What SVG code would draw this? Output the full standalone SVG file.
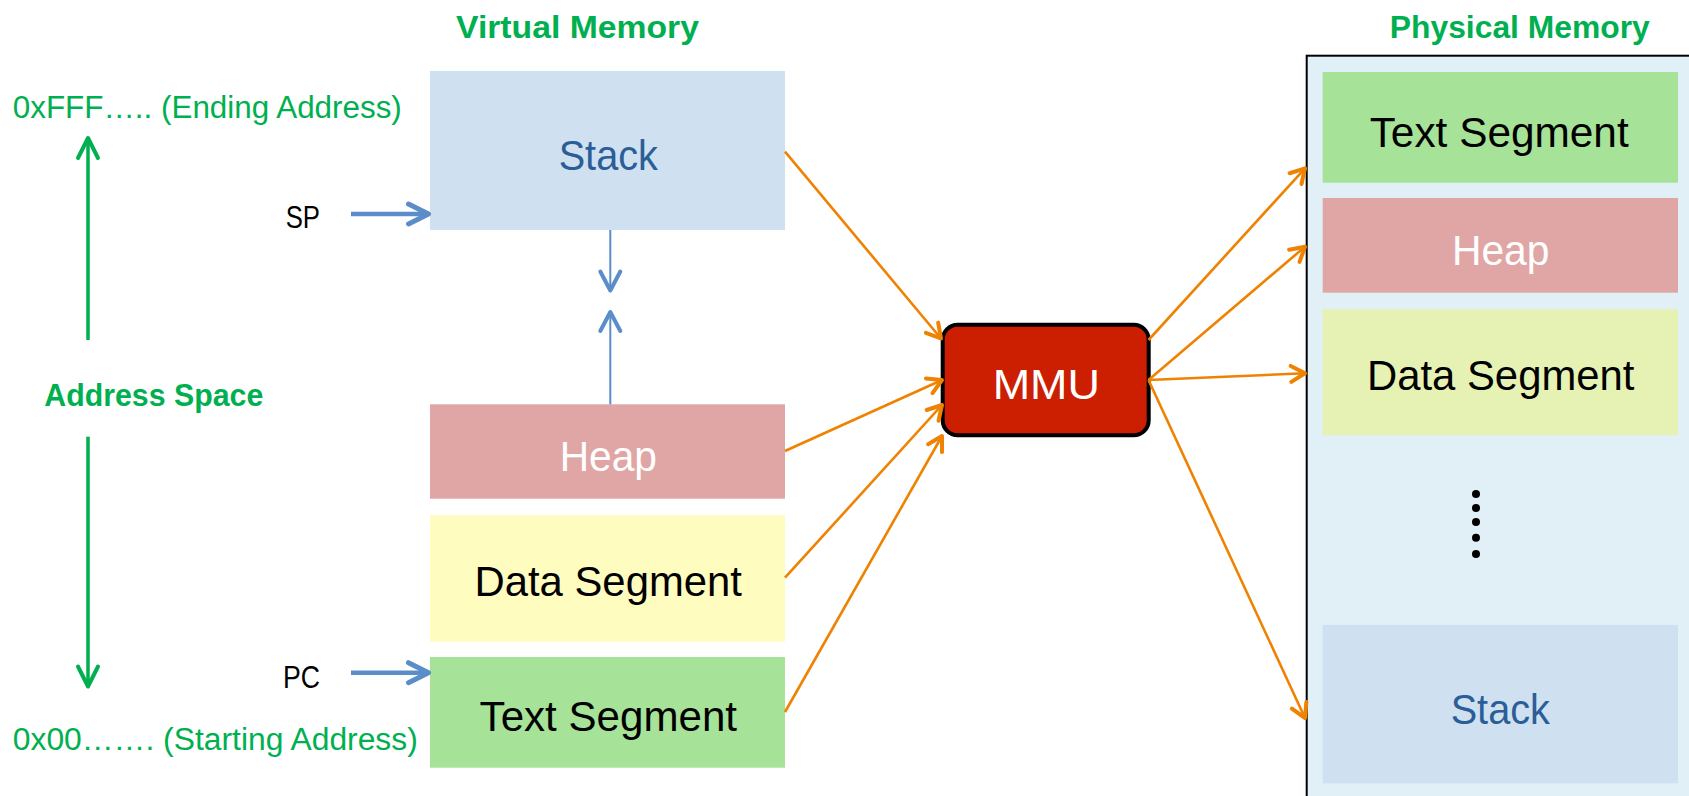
<svg xmlns="http://www.w3.org/2000/svg" width="1689" height="796" viewBox="0 0 1689 796">
  <style>
    .t { font-family: "Liberation Sans", Arial, sans-serif; }
    .title { font-weight: bold; font-size: 31px; fill: #00b050; }
    .addr { font-size: 31px; fill: #00b050; }
    .reg { font-size: 31px; fill: #000000; }
    .seg { font-size: 43px; }
    .dark { fill: #000000; }
    .white { fill: #ffffff; }
    .blue { fill: #2b5e97; }
    .orange { stroke: #ef8200; stroke-width: 2.6; fill: none; }
    .ptr { stroke: #5b8dc8; stroke-width: 4.5; fill: none; }
    .thin { stroke: #5b8dc8; stroke-width: 2; fill: none; }
    .span { stroke: #00b050; stroke-width: 3.5; fill: none; }
  </style>
  <defs>
    <marker id="headOrange" markerUnits="userSpaceOnUse" viewBox="-20 -12 24 24" refX="0" refY="0" markerWidth="24" markerHeight="24" orient="auto">
      <path d="M -14 -8 L 0 0 L -14 8" fill="none" stroke="#ef8200" stroke-width="4" stroke-linecap="round" stroke-linejoin="round"/>
    </marker>
    <marker id="headPtr" markerUnits="userSpaceOnUse" viewBox="-26 -14 30 28" refX="0" refY="0" markerWidth="30" markerHeight="28" orient="auto">
      <path d="M -20 -10 L 0 0 L -20 10" fill="none" stroke="#5b8dc8" stroke-width="5" stroke-linecap="round" stroke-linejoin="round"/>
    </marker>
    <marker id="headThin" markerUnits="userSpaceOnUse" viewBox="-26 -14 30 28" refX="0" refY="0" markerWidth="30" markerHeight="28" orient="auto">
      <path d="M -19 -10 L 0 0 L -19 10" fill="none" stroke="#5b8dc8" stroke-width="4" stroke-linecap="round" stroke-linejoin="round"/>
    </marker>
    <marker id="headGreen" markerUnits="userSpaceOnUse" viewBox="-26 -14 30 28" refX="0" refY="0" markerWidth="30" markerHeight="28" orient="auto">
      <path d="M -20 -10 L 0 0 L -20 10" fill="none" stroke="#00b050" stroke-width="4" stroke-linecap="round" stroke-linejoin="round"/>
    </marker>
  </defs>

  <rect width="1689" height="796" fill="#ffffff"/>

  <!-- headings and side labels -->
  <g id="labels" class="t">
    <text class="title" x="577.5" y="38" text-anchor="middle" textLength="243" lengthAdjust="spacingAndGlyphs">Virtual Memory</text>
    <text class="title" x="1519.8" y="38" text-anchor="middle" textLength="260" lengthAdjust="spacingAndGlyphs">Physical Memory</text>
    <text class="addr" x="12.8" y="117.5" textLength="389" lengthAdjust="spacingAndGlyphs">0xFFF….. (Ending Address)</text>
    <text class="addr" x="12.8" y="750" textLength="405" lengthAdjust="spacingAndGlyphs">0x00……. (Starting Address)</text>
    <text class="title" x="153.8" y="406" text-anchor="middle" textLength="219" lengthAdjust="spacingAndGlyphs" style="font-size:32px">Address Space</text>
    <text class="reg" x="285.7" y="228" textLength="34.3" lengthAdjust="spacingAndGlyphs">SP</text>
    <text class="reg" x="283" y="687.7" textLength="37" lengthAdjust="spacingAndGlyphs">PC</text>
  </g>

  <!-- virtual memory segments -->
  <g id="v-stack" class="t">
    <rect x="430" y="71" width="355" height="159" fill="#cfe0f1"/>
    <text class="seg blue" x="608.3" y="170" text-anchor="middle" textLength="99.3" lengthAdjust="spacingAndGlyphs">Stack</text>
  </g>
  <g id="v-heap" class="t">
    <rect x="430" y="404.3" width="355" height="94.4" fill="#e0a6a5"/>
    <text class="seg white" x="608.3" y="471" text-anchor="middle" textLength="97.3" lengthAdjust="spacingAndGlyphs">Heap</text>
  </g>
  <g id="v-data" class="t">
    <rect x="430" y="515" width="355" height="126.7" fill="#fffcc0"/>
    <text class="seg dark" x="608.2" y="596" text-anchor="middle" textLength="267.5" lengthAdjust="spacingAndGlyphs">Data Segment</text>
  </g>
  <g id="v-text" class="t">
    <rect x="430" y="657" width="355" height="110.7" fill="#a6e297"/>
    <text class="seg dark" x="608.3" y="731" text-anchor="middle" textLength="257.4" lengthAdjust="spacingAndGlyphs">Text Segment</text>
  </g>

  <!-- translation unit -->
  <g id="mmu" class="t">
    <rect x="942.7" y="324.7" width="206" height="110.6" rx="15" ry="15" fill="#cc1e00" stroke="#000000" stroke-width="4"/>
    <text class="seg white" x="1046.3" y="399" text-anchor="middle" textLength="107.3" lengthAdjust="spacingAndGlyphs">MMU</text>
  </g>

  <!-- physical memory -->
  <g id="physical" class="t">
    <rect x="1306.7" y="55.7" width="500" height="800" fill="#e0f0f6" stroke="#000000" stroke-width="2"/>
  </g>
  <g id="p-text" class="t">
    <rect x="1322.7" y="72" width="355.3" height="110.7" fill="#a6e297"/>
    <text class="seg dark" x="1499.2" y="146.7" text-anchor="middle" textLength="259" lengthAdjust="spacingAndGlyphs">Text Segment</text>
  </g>
  <g id="p-heap" class="t">
    <rect x="1322.7" y="198" width="355.3" height="94.7" fill="#e0a6a5"/>
    <text class="seg white" x="1500.7" y="265" text-anchor="middle" textLength="97.5" lengthAdjust="spacingAndGlyphs">Heap</text>
  </g>
  <g id="p-data" class="t">
    <rect x="1322.7" y="309.3" width="355.3" height="126" fill="#e6f2b4"/>
    <text class="seg dark" x="1500.7" y="390" text-anchor="middle" textLength="267.5" lengthAdjust="spacingAndGlyphs">Data Segment</text>
  </g>
  <g id="p-gap">
    <circle cx="1476" cy="494" r="4" fill="#000000"/>
    <circle cx="1476" cy="508" r="4" fill="#000000"/>
    <circle cx="1476" cy="522" r="4" fill="#000000"/>
    <circle cx="1476" cy="537.7" r="4" fill="#000000"/>
    <circle cx="1476" cy="554" r="4" fill="#000000"/>
  </g>
  <g id="p-stack" class="t">
    <rect x="1322.7" y="625" width="355.3" height="158.3" fill="#cfe0f1"/>
    <text class="seg blue" x="1500.3" y="724" text-anchor="middle" textLength="99.3" lengthAdjust="spacingAndGlyphs">Stack</text>
  </g>

  <!-- connectors -->
  <g id="connectors">
    <line class="span" x1="88" y1="340" x2="88" y2="138" marker-end="url(#headGreen)"/>
    <line class="span" x1="88" y1="436.7" x2="88" y2="686.5" marker-end="url(#headGreen)"/>
    <line class="ptr" x1="351" y1="214" x2="428.5" y2="214" marker-end="url(#headPtr)"/>
    <line class="ptr" x1="351" y1="672.7" x2="428.5" y2="672.7" marker-end="url(#headPtr)"/>
    <line class="thin" x1="610.3" y1="230" x2="610.3" y2="290.5" marker-end="url(#headThin)"/>
    <line class="thin" x1="610.3" y1="404.3" x2="610.3" y2="312" marker-end="url(#headThin)"/>

    <line class="orange" x1="785" y1="151.7" x2="941" y2="338.5" marker-end="url(#headOrange)"/>
    <line class="orange" x1="785" y1="451" x2="942" y2="380" marker-end="url(#headOrange)"/>
    <line class="orange" x1="785" y1="577.7" x2="942" y2="405" marker-end="url(#headOrange)"/>
    <line class="orange" x1="785" y1="712" x2="942" y2="436" marker-end="url(#headOrange)"/>

    <line class="orange" x1="1148.5" y1="340" x2="1305" y2="168.3" marker-end="url(#headOrange)"/>
    <line class="orange" x1="1148.5" y1="380" x2="1305" y2="246.7" marker-end="url(#headOrange)"/>
    <line class="orange" x1="1148.5" y1="380" x2="1305" y2="373.3" marker-end="url(#headOrange)"/>
    <line class="orange" x1="1148.5" y1="380" x2="1305" y2="718" marker-end="url(#headOrange)"/>
  </g>
</svg>
